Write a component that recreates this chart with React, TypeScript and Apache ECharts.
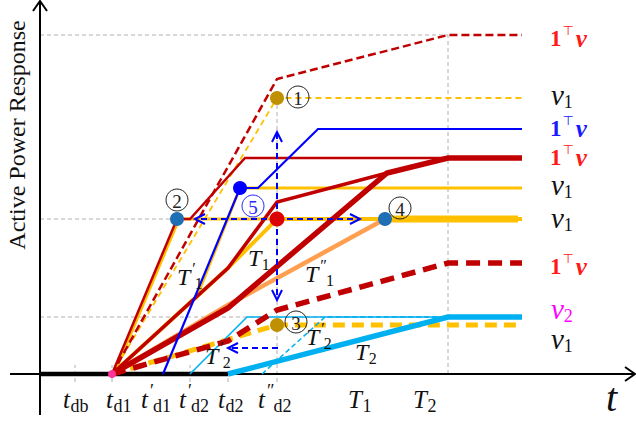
import React, { useEffect, useRef } from "react";
import * as echarts from "echarts";

// Units: x = time (0 at the vertical axis), y = active power response (0 on the time axis)
const baseline = [[0, 0], [188, 0]];
const redDashUpper = [[72, 0], [237, 295], [408, 339], [482, 339]];
const yellowDashUpper = [[72, 0], [237, 276], [482, 276]];
const blueResp = [[123, 0], [200, 186], [218, 186], [278, 245], [482, 245]];
const yellowFive = [[72, 0], [157, 78], [200, 186], [482, 186]];
const redThin = [[72, 0], [137, 155], [150, 155], [205, 216], [482, 216]];
const yellowTwo = [[74, 0], [139, 155], [482, 155]];
const redMid = [[72, 0], [188, 106], [237, 172], [347, 201], [408, 216]];
const yellowT1 = [[72, 0], [188, 106], [237, 155], [482, 155]];
const redThick = [[72, 0], [188, 66], [347, 201], [408, 216], [482, 216]];
const orangeT1pp = [[72, 0], [188, 69], [345, 155]];
const yellowFour = [[345, 155], [478, 155]];
const cyanThick = [[188, 0], [408, 57], [482, 57]];
const cyanThin = [[150, 0], [207, 57], [408, 57]];
const cyanDash = [[222, 0], [285, 57], [408, 57]];
const yellowDashLow = [[72, 0], [237, 49], [482, 49]];
const redDashLow = [[72, 0], [188, 33], [237, 64], [408, 111], [482, 111]];

const guideLines = [
  [[0, 339], [408, 339]],
  [[0, 155], [237, 155]],
  [[0, 57], [408, 57]],
  [[237, -8], [237, 276]],
  [[408, 0], [408, 339]],
];
const tickX = [35, 72, 150, 188];

const arrows = [
  [[237, 155], [237, 242]],
  [[237, 155], [237, 74]],
  [[237, 155], [155, 155]],
  [[237, 155], [320, 155]],
  [[238, 26], [188, 26]],
];

const dotsGold = [[237, 276], [237, 49]];
const dotsSteel = [[137, 155], [345, 155]];
const dotsRed = [[237, 155]];
const dotsBlue = [[200, 186]];
const dotsPink = [[72, 0]];

const tickLabels = [
  { x: 63, base: "t", sub: "db", prime: "" },
  { x: 106, base: "t", sub: "d1", prime: "" },
  { x: 141, base: "t", sub: "d1", prime: "′" },
  { x: 179, base: "t", sub: "d2", prime: "′" },
  { x: 218, base: "t", sub: "d2", prime: "" },
  { x: 258, base: "t", sub: "d2", prime: "″" },
  { x: 348, base: "T", sub: "1", prime: "" },
  { x: 413, base: "T", sub: "2", prime: "" },
];

const innerLabels = [
  { x: 248, y: 258, sub: "1", prime: "" },
  { x: 177, y: 277, sub: "1", prime: "′" },
  { x: 305, y: 274, sub: "1", prime: "″" },
  { x: 205, y: 356, sub: "2", prime: "′" },
  { x: 306, y: 337, sub: "2", prime: "′" },
  { x: 355, y: 352, sub: "2", prime: "" },
];

const rightLabels = [
  { kind: "1v", y: 38, color: "#ff1a1a" },
  { kind: "v", y: 97, sub: "1", color: "#111111" },
  { kind: "1v", y: 128, color: "#1a1aff" },
  { kind: "1v", y: 157, color: "#ff1a1a" },
  { kind: "v", y: 187, sub: "1", color: "#111111" },
  { kind: "v", y: 220, sub: "1", color: "#111111" },
  { kind: "1v", y: 266, color: "#ff1a1a" },
  { kind: "v", y: 311, sub: "2", color: "#ff00ff" },
  { kind: "v", y: 341, sub: "1", color: "#111111" },
];

const circled = [
  { x: 298, y: 97, n: "1", c: "#222222" },
  { x: 177, y: 200, n: "2", c: "#222222" },
  { x: 296, y: 322, n: "3", c: "#222222" },
  { x: 400, y: 208, n: "4", c: "#222222" },
  { x: 253, y: 206, n: "5", c: "#2a2aff" },
];

const SERIF = '"Liberation Serif", "DejaVu Serif", serif';
let mctx: CanvasRenderingContext2D | null = null;
function tw(t: string, font: string) {
  if (!mctx) mctx = document.createElement("canvas").getContext("2d");
  if (!mctx) return t.length * 10;
  mctx.font = font;
  return mctx.measureText(t).width;
}
type Part = { t: string; size: number; italic?: boolean; bold?: boolean; dy?: number; dx?: number; family?: string; lh?: number };
function mathLabel(x: number, y: number, parts: Part[], color: string) {
  const els: any[] = [];
  let cx = x;
  for (const p of parts) {
    const font = `${p.italic ? "italic " : ""}${p.bold ? "bold " : ""}${p.size}px ${p.family || SERIF}`;
    els.push({
      type: "text",
      x: cx + (p.dx || 0),
      y: y + (p.dy || 0),
      z: 100,
      style: {
        text: p.t, font, fill: color, lineHeight: p.lh || Math.round(p.size * 0.75),
        textAlign: "left", textVerticalAlign: "middle", align: "left", verticalAlign: "middle",
      },
    });
    cx += tw(p.t, font) + (p.dx || 0);
  }
  return els;
}
function subLabel(x: number, y: number, base: string, sub: string, prime: string, size: number, subSize: number, color = "#111") {
  const parts: Part[] = [{ t: base, size, italic: true }];
  if (prime) parts.push({ t: prime, size: subSize, dy: -size * 0.34, dx: 2, lh: 8 });
  parts.push({ t: sub, size: subSize, dy: size * 0.28, dx: prime ? -1 : 0.5 });
  return mathLabel(x, y, parts, color);
}

function chevron(from: number[], to: number[], len = 10, half = 5) {
  const dx = to[0] - from[0], dy = to[1] - from[1];
  const L = Math.hypot(dx, dy);
  const ux = dx / L, uy = dy / L;
  const px = -uy, py = ux;
  const bx = to[0] - ux * len, by = to[1] - uy * len;
  return [[bx + px * half, by + py * half], to, [bx - px * half, by - py * half]];
}

function line(data: number[][], color: string, width: number, z: number, dash?: number[]) {
  return {
    type: "line",
    data,
    symbol: "none",
    clip: false,
    silent: true,
    z,
    lineStyle: { color, width, type: dash ? dash : "solid", cap: "butt", join: "miter" },
  };
}
function dots(data: number[][], color: string, size: number) {
  return { type: "scatter", data, symbol: "circle", symbolSize: size, z: 60, silent: true, itemStyle: { color, opacity: 1 } };
}

export default function App() {
  const ref = useRef<HTMLDivElement>(null);
  useEffect(() => {
    if (!ref.current) return;
    const chart = echarts.init(ref.current, undefined, { renderer: "svg" });
    const RED = "#c00000", YEL = "#ffc000", CYAN = "#00b0f0", BLUE = "#0000ff", GRAY = "#b0b0b0";
    const series: any[] = [];
    guideLines.forEach((g) => series.push(line(g, GRAY, 1, 1, [4, 3])));
    tickX.forEach((x) => series.push(line([[x, -8], [x, 9]], GRAY, 1, 1, [4, 3])));
    // axes
    series.push(line([[-30, 0], [595, 0]], "#000", 2, 5));
    series.push(line([[585, 7], [595, 0], [585, -7]], "#000", 2, 5));
    series.push(line([[0, -41], [0, 373]], "#000", 2, 5));
    series.push(line([[-7, 363], [0, 373], [7, 363]], "#000", 2, 5));
    series.push(line(baseline, "#000", 4.5, 6));
    // responses
    series.push(line(yellowDashUpper, YEL, 1.8, 10, [6, 4]));
    series.push(line(yellowTwo, YEL, 3, 10));
    series.push(line(yellowT1, YEL, 4, 10));
    series.push(line(yellowFive, YEL, 3, 10));
    series.push(line(orangeT1pp, "#ffa050", 4.5, 11));
    series.push(line(yellowFour, YEL, 7, 11));
    series.push(line(yellowDashLow, YEL, 5, 10, [12, 7]));
    series.push(line(cyanThin, CYAN, 1.6, 12));
    series.push(line(cyanDash, CYAN, 1.5, 12, [5, 3]));
    series.push(line(cyanThick, CYAN, 5.5, 12));
    series.push(line(redDashUpper, RED, 2.5, 20, [8, 4]));
    series.push(line(redThin, RED, 2.5, 20));
    series.push(line(redMid, RED, 3.5, 20));
    series.push(line(redThick, RED, 5.5, 21));
    series.push(line(redDashLow, RED, 5.5, 21, [14, 8]));
    series.push(line(blueResp, BLUE, 2.2, 30));
    arrows.forEach((a) => {
      series.push(line(a, BLUE, 2, 35, [6, 4]));
      series.push(line(chevron(a[0], a[1]), BLUE, 2, 35));
    });
    series.push(dots(dotsGold, "#bf9000", 14));
    series.push(dots(dotsSteel, "#1f6fb5", 14));
    series.push(dots(dotsRed, "#dd0000", 15));
    series.push(dots(dotsBlue, "#0000ff", 14));
    series.push(dots(dotsPink, "#ff3399", 8));

    const graphic: any[] = [];
    tickLabels.forEach((l) => graphic.push(...subLabel(l.x, 399, l.base, l.sub, l.prime, 25, 18)));
    innerLabels.forEach((l) => graphic.push(...subLabel(l.x, l.y, "T", l.sub, l.prime, 24, 16)));
    rightLabels.forEach((l) => {
      if (l.kind === "1v") {
        graphic.push(
          ...mathLabel(550, l.y, [
            { t: "1", size: 23, bold: true, lh: 16 },
            { t: "⊤", size: 13, dy: -8, dx: 1, family: '"DejaVu Sans", sans-serif', lh: 9 },
            { t: "v", size: 25, bold: true, italic: true, dx: 2, lh: 16 },
          ], l.color)
        );
      } else {
        graphic.push(...mathLabel(551, l.y - 2, [
          { t: "v", size: 29, italic: true, lh: 18 },
          { t: l.sub as string, size: 18, dy: 7, lh: 12 },
        ], l.color));
      }
    });
    circled.forEach((c) => {
      graphic.push({ type: "circle", shape: { cx: c.x, cy: c.y, r: 11 }, z: 100, style: { fill: "rgba(255,255,255,0)", stroke: c.c, lineWidth: 1 } });
      graphic.push({ type: "text", x: c.x, y: c.y + 1, z: 100, style: { text: c.n, font: `19px ${SERIF}`, fill: c.c, lineHeight: 14, textAlign: "center", textVerticalAlign: "middle", align: "center", verticalAlign: "middle" } });
    });
    graphic.push({ type: "text", x: 606, y: 397, z: 100, style: { text: "t", font: `italic 40px ${SERIF}`, fill: "#111", lineHeight: 30, textAlign: "left", textVerticalAlign: "middle", align: "left", verticalAlign: "middle" } });
    graphic.push({ type: "text", x: 17, y: 135, rotation: Math.PI / 2, z: 100, style: { text: "Active Power Response", font: `24px ${SERIF}`, fill: "#111", lineHeight: 20, textAlign: "center", textVerticalAlign: "middle", align: "center", verticalAlign: "middle" } });

    chart.setOption({
      animation: false,
      grid: { left: 0, right: 0, top: 0, bottom: 0, containLabel: false },
      xAxis: { type: "value", min: -40, max: 596, show: false },
      yAxis: { type: "value", min: -49, max: 374, show: false },
      series,
      graphic,
    });
    return () => chart.dispose();
  }, []);
  return <div ref={ref} style={{ position: "absolute", left: 0, top: 0, width: 636, height: 423, background: "#fff" }} />;
}
